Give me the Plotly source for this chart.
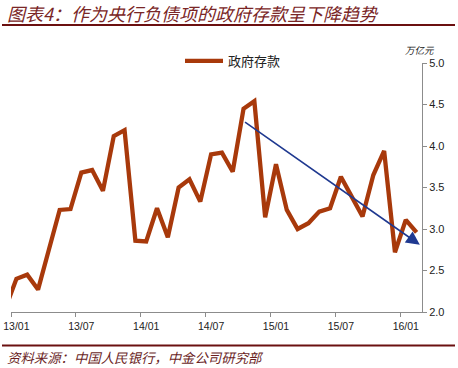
import plotly.graph_objects as go

months = ["2012-12",
          "2013-01", "2013-02", "2013-03", "2013-04", "2013-05", "2013-06",
          "2013-07", "2013-08", "2013-09", "2013-10", "2013-11", "2013-12",
          "2014-01", "2014-02", "2014-03", "2014-04", "2014-05", "2014-06",
          "2014-07", "2014-08", "2014-09", "2014-10", "2014-11", "2014-12",
          "2015-01", "2015-02", "2015-03", "2015-04", "2015-05", "2015-06",
          "2015-07", "2015-08", "2015-09", "2015-10", "2015-11", "2015-12",
          "2016-01", "2016-02"]
gov_deposits = [2.05,
                2.40, 2.45, 2.27, 2.75, 3.23, 3.24,
                3.68, 3.71, 3.46, 4.12, 4.19, 2.86,
                2.85, 3.25, 2.90, 3.50, 3.60, 3.33,
                3.90, 3.92, 3.69, 4.45, 4.54, 3.14,
                3.78, 3.23, 3.00, 3.07, 3.21, 3.25,
                3.63, 3.39, 3.15, 3.65, 3.94, 2.72,
                3.11, 2.96]
tick_months = ["2013-01", "2013-07", "2014-01", "2014-07", "2015-01", "2015-07", "2016-01"]
tick_labels = ["13/01", "13/07", "14/01", "14/07", "15/01", "15/07", "16/01"]
trend_start = ("2014-10", 4.30)
trend_end = ("2016-02", 2.81)
trend_end_offset = 0.3

def month_index(m):
    y, mo = m.split("-")
    return (int(y) - 2013) * 12 + int(mo) - 1

xs = [month_index(m) + 0.5 for m in months]
boundaries = [month_index(m) for m in tick_months]
label_pos = [b + 0.5 for b in boundaries]

W, H = 458, 368
L, R, T, B = 11, 36, 63, 56
pw, ph = W - L - R, H - T - B

def px(x):
    return (x - L) / pw

def py(y):
    return (H - B - y) / ph

fig = go.Figure()
fig.add_trace(go.Scatter(
    x=xs, y=gov_deposits, mode="lines", name="政府存款",
    line=dict(color="#A8390B", width=4.3),
))

fig.add_annotation(
    x=month_index(trend_end[0]) + 0.5 + trend_end_offset, y=trend_end[1],
    ax=month_index(trend_start[0]) + 0.5, ay=trend_start[1],
    xref="x", yref="y", axref="x", ayref="y",
    showarrow=True, arrowhead=2, arrowsize=1.7, arrowwidth=1.6,
    arrowcolor="#1F3990", text="",
)

fig.add_annotation(
    x=px(5), y=py(13), xref="paper", yref="paper", xanchor="left", yanchor="middle",
    text="<i>图表4：作为央行负债项的政府存款呈下降趋势</i>", showarrow=False,
    font=dict(family="Noto Sans CJK SC", size=18, color="#7A2626"),
)
fig.add_annotation(
    x=px(5), y=py(357), xref="paper", yref="paper", xanchor="left", yanchor="middle",
    text="<i>资料来源：中国人民银行，中金公司研究部</i>", showarrow=False,
    font=dict(family="Noto Sans CJK SC", size=13.4, color="#6B1F1F"),
)
fig.add_annotation(
    x=px(420), y=py(50), xref="paper", yref="paper", xanchor="center", yanchor="middle",
    text="<i>万亿元</i>", showarrow=False,
    font=dict(family="Noto Sans CJK SC", size=9.5, color="#222222"),
)

fig.add_shape(type="line", xref="paper", yref="paper",
              x0=px(2), x1=px(455), y0=py(25), y1=py(25),
              line=dict(color="#6B1010", width=2))
fig.add_shape(type="line", xref="paper", yref="paper",
              x0=px(2), x1=px(455), y0=py(345.5), y1=py(345.5),
              line=dict(color="#6B1010", width=2))

fig.update_layout(
    width=W, height=H,
    margin=dict(l=L, r=R, t=T, b=B),
    paper_bgcolor="white", plot_bgcolor="white",
    showlegend=True,
    legend=dict(x=px(180), y=py(61), xanchor="left", yanchor="middle",
                font=dict(family="Noto Sans CJK SC", size=13, color="#222222"),
                bgcolor="rgba(0,0,0,0)", itemwidth=38),
    xaxis=dict(range=[0, 38], tickvals=label_pos, ticktext=tick_labels,
               automargin=False, ticklabeloverflow="allow",
               showgrid=False, zeroline=False, showline=True,
               linecolor="#8C8C8C", linewidth=1, ticks="outside", ticklen=4,
               tickcolor="rgba(0,0,0,0)",
               minor=dict(tickvals=boundaries, ticks="outside", ticklen=4,
                          tickcolor="#8C8C8C", showgrid=False),
               tickfont=dict(family="Liberation Sans", size=10.5, color="#222222")),
    yaxis=dict(range=[2, 5], dtick=0.5, tickformat=".1f", side="right",
               automargin=False,
               showgrid=False, zeroline=False, showline=True,
               linecolor="#8C8C8C", linewidth=1, ticks="outside", ticklen=4,
               tickcolor="#8C8C8C",
               tickfont=dict(family="Liberation Sans", size=11, color="#222222")),
)

fig.write_html("out.html", config={"displayModeBar": False},
               post_script="document.body.style.margin='0';")
